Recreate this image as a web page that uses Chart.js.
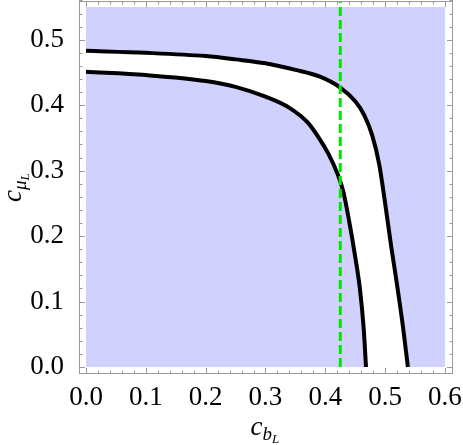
<!DOCTYPE html>
<html>
<head>
<meta charset="utf-8">
<script src="https://cdn.jsdelivr.net/npm/chart.js@4"></script>
<style>
  html, body { margin: 0; padding: 0; background: #fff; }
  #wrap { width: 463px; height: 445px; }
</style>
</head>
<body>
<div id="wrap"><canvas id="regionChart"></canvas></div>
<script>
// ----------------------------------------
// Data
// ----------------------------------------
const upperX = [0, 0.1, 0.2, 0.25, 0.3, 0.35, 0.39, 0.425, 0.45, 0.465, 0.478, 0.49, 0.5, 0.51, 0.52, 0.53, 0.538];
const upperY = [0.483, 0.480, 0.475, 0.470, 0.464, 0.454, 0.444, 0.427, 0.406, 0.385, 0.355, 0.31, 0.25, 0.185, 0.125, 0.06, 0];

const lowerX = [0, 0.1, 0.2, 0.25, 0.3, 0.34, 0.37, 0.39, 0.405, 0.42, 0.43, 0.44, 0.45, 0.458, 0.464, 0.468];
const lowerY = [0.451, 0.446, 0.437, 0.428, 0.413, 0.396, 0.374, 0.349, 0.326, 0.296, 0.268, 0.222, 0.168, 0.118, 0.06, 0];

const cutX = 0.425;          // green dashed line
const xRange = [0, 0.6];
const yRange = [0, 0.55];
const xTicks = [0, 0.1, 0.2, 0.3, 0.4, 0.5, 0.6];
const yTicks = [0, 0.1, 0.2, 0.3, 0.4, 0.5];
const minorStep = 0.02;

const regionColor = 'rgb(209,209,253)';
const frameColor = '#9a9a9a';
const serif = "'Liberation Serif', 'DejaVu Serif', serif";

function toPoints(xs, ys) {
  return xs.map((x, i) => ({ x: x, y: ys[i] }));
}

// Region background, frame with inward ticks, axis titles
const framePlugin = {
  id: 'framePlugin',
  beforeDatasetsDraw(chart) {
    const ctx = chart.ctx;
    const xs = chart.scales.x, ys = chart.scales.y;
    const l = xs.getPixelForValue(xRange[0]), r = xs.getPixelForValue(xRange[1]);
    const t = ys.getPixelForValue(yRange[1]), b = ys.getPixelForValue(yRange[0]);
    ctx.save();
    ctx.fillStyle = regionColor;
    ctx.fillRect(l, t, r - l, b - t);
    ctx.restore();
  },
  afterDraw(chart) {
    const ctx = chart.ctx;
    const a = chart.chartArea;
    const xs = chart.scales.x, ys = chart.scales.y;
    ctx.save();
    ctx.strokeStyle = frameColor;
    ctx.lineWidth = 1;
    ctx.strokeRect(Math.round(a.left) + 0.5, Math.round(a.top) + 0.5,
      Math.round(a.right - a.left) - 1, Math.round(a.bottom - a.top) - 1);

    ctx.beginPath();
    const nx = Math.round((xRange[1] - xRange[0]) / minorStep);
    for (let i = 0; i <= nx; i++) {
      const v = xRange[0] + i * minorStep;
      const len = (i % 5 === 0) ? 6 : 3.5;
      const p = Math.round(xs.getPixelForValue(v)) + 0.5;
      ctx.moveTo(p, a.bottom); ctx.lineTo(p, a.bottom - len);
      ctx.moveTo(p, a.top); ctx.lineTo(p, a.top + len);
    }
    const ny = Math.round((yRange[1] - yRange[0]) / minorStep);
    for (let i = 0; i <= ny; i++) {
      const v = yRange[0] + i * minorStep;
      const len = (i % 5 === 0) ? 6 : 3.5;
      const p = Math.round(ys.getPixelForValue(v)) + 0.5;
      ctx.moveTo(a.left, p); ctx.lineTo(a.left + len, p);
      ctx.moveTo(a.right, p); ctx.lineTo(a.right - len, p);
    }
    ctx.stroke();

    // x title: c_{b_L}
    ctx.fillStyle = '#000';
    ctx.textBaseline = 'alphabetic';
    ctx.textAlign = 'left';
    const cx = (xs.getPixelForValue(xRange[0]) + xs.getPixelForValue(xRange[1])) / 2 - 15;
    ctx.font = 'italic 27px ' + serif;
    ctx.fillText('c', cx, 435);
    let w = ctx.measureText('c').width;
    ctx.font = 'italic 19px ' + serif;
    ctx.fillText('b', cx + w, 440);
    w += ctx.measureText('b').width;
    ctx.font = 'italic 13px ' + serif;
    ctx.fillText('L', cx + w, 443);

    // y title: c_{mu_L}, rotated
    const cy = (ys.getPixelForValue(yRange[0]) + ys.getPixelForValue(yRange[1])) / 2 + 15;
    ctx.translate(21, cy);
    ctx.rotate(-Math.PI / 2);
    ctx.font = 'italic 27px ' + serif;
    ctx.fillText('c', 0, 0);
    w = ctx.measureText('c').width;
    ctx.font = 'italic 19px ' + serif;
    ctx.fillText('\u03bc', w, 5);
    w += ctx.measureText('\u03bc').width;
    ctx.font = 'italic 13px ' + serif;
    ctx.fillText('L', w, 8);
    ctx.restore();
  }
};

window.addEventListener('DOMContentLoaded', function() {
  const ctx = document.getElementById('regionChart').getContext('2d');
  new Chart(ctx, {
    type: 'line',
    data: {
      datasets: [
        {
          label: 'cut',
          data: [{ x: cutX, y: yRange[0] }, { x: cutX, y: 0.57 }],
          borderColor: '#00e600',
          borderWidth: 3,
          borderDash: [9, 4],
          tension: 0,
          fill: false,
          pointRadius: 0
        },
        {
          label: 'lower',
          data: toPoints(lowerX, lowerY),
          borderColor: '#000',
          borderWidth: 4,
          cubicInterpolationMode: 'monotone',
          fill: 'origin',
          backgroundColor: regionColor,
          pointRadius: 0
        },
        {
          label: 'upper',
          data: toPoints(upperX, upperY),
          borderColor: '#000',
          borderWidth: 4,
          cubicInterpolationMode: 'monotone',
          fill: 'origin',
          backgroundColor: '#ffffff',
          pointRadius: 0
        }
      ]
    },
    options: {
      responsive: true,
      maintainAspectRatio: false,
      animation: false,
      layout: { padding: { top: 1, right: 10, left: 0, bottom: 0 } },
      plugins: {
        legend: { display: false },
        tooltip: { enabled: false }
      },
      scales: {
        x: {
          type: 'linear',
          min: -0.0117,
          max: 0.6134,
          grid: { display: false },
          border: { display: false },
          afterBuildTicks: s => { s.ticks = xTicks.map(v => ({ value: v })); },
          afterFit: s => { s.height = 71; s.paddingLeft = 0; s.paddingRight = 0; },
          ticks: {
            color: '#000',
            padding: 0,
            maxRotation: 0,
            font: { family: serif, size: 27 },
            callback: v => v.toFixed(1)
          }
        },
        y: {
          type: 'linear',
          min: -0.0107,
          max: 0.5592,
          grid: { display: false },
          border: { display: false },
          afterBuildTicks: s => { s.ticks = yTicks.map(v => ({ value: v })); },
          afterFit: s => { s.width = 79; s.paddingTop = 0; s.paddingBottom = 0; },
          ticks: {
            color: '#000',
            padding: 7,
            font: { family: serif, size: 27 },
            callback: v => v.toFixed(1)
          }
        }
      }
    },
    plugins: [framePlugin]
  });
});
</script>
</body>
</html>
